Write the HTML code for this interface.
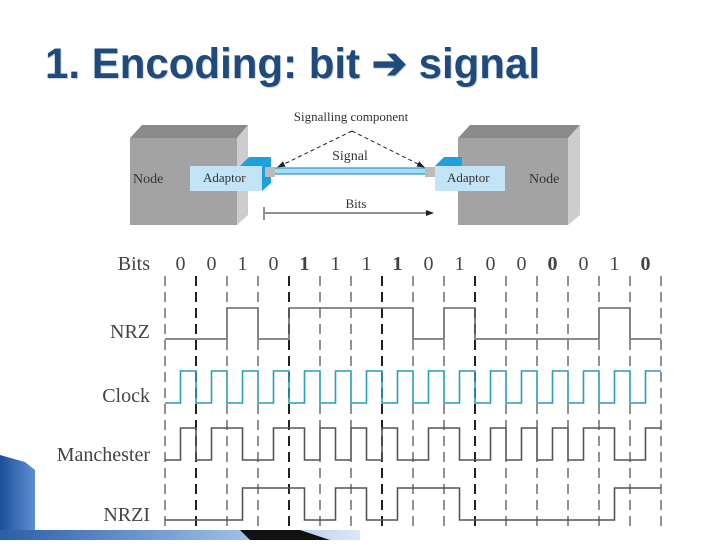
<!DOCTYPE html>
<html><head><meta charset="utf-8"><style>
html,body{margin:0;padding:0;background:#fff;}
body{width:720px;height:540px;overflow:hidden;position:relative;}
</style></head><body>
<svg width="720" height="540" viewBox="0 0 720 540" xmlns="http://www.w3.org/2000/svg">
<defs>
<linearGradient id="bl" x1="0" y1="0" x2="1" y2="0"><stop offset="0" stop-color="#1d4f9a"/><stop offset="1" stop-color="#5d8fd0"/></linearGradient>
<linearGradient id="bb" x1="0" y1="0" x2="1" y2="0"><stop offset="0" stop-color="#2a5ea8"/><stop offset="0.6" stop-color="#8fb4e0"/><stop offset="1" stop-color="#dce8f6"/></linearGradient>
<marker id="ah" markerWidth="8" markerHeight="8" refX="7" refY="4" orient="auto"><path d="M0,1 L8,4 L0,7 z" fill="#222"/></marker>
</defs>
<path d="M0 455 L25 462 L35 470 L35 530 L0 540 Z" fill="url(#bl)"/>
<rect x="0" y="530" width="360" height="10" fill="url(#bb)"/>
<path d="M240 530 L300 530 L330 540 L250 540 Z" fill="#111"/>
<text x="46" y="79" font-family="Liberation Sans, sans-serif" font-weight="bold" font-size="43" fill="#cfd6e0" textLength="495" lengthAdjust="spacingAndGlyphs">1. Encoding: bit ➔ signal</text>
<text x="45" y="78" font-family="Liberation Sans, sans-serif" font-weight="bold" font-size="43" fill="#1f4a7c" textLength="495" lengthAdjust="spacingAndGlyphs">1. Encoding: bit ➔ signal</text>
<g font-family="Liberation Serif, serif" fill="#333">
<polygon points="130,138 142,125 248,125 237,138" fill="#8a8a8a"/>
<polygon points="237,138 248,125 248,215 237,225" fill="#cdcdcd"/>
<rect x="130" y="138" width="107" height="87" fill="#a3a3a3"/>
<text x="133" y="183" font-size="14">Node</text>
<polygon points="262,166 271,157 271,183 262,191" fill="#1fa0dc"/>
<polygon points="240,166 249,157 271,157 262,166" fill="#1fa0dc"/>
<rect x="190" y="166" width="72" height="25" fill="#c2e4f6"/>
<text x="203" y="182" font-size="13">Adaptor</text>
<rect x="265" y="167" width="10" height="10" fill="#bbb"/>
<rect x="275" y="168" width="152" height="6" fill="#a9dcf2"/>
<line x1="275" y1="168" x2="427" y2="168" stroke="#2a9bd0" stroke-width="1.2"/>
<line x1="275" y1="174" x2="427" y2="174" stroke="#2a9bd0" stroke-width="1.2"/>
<rect x="425" y="167" width="10" height="10" fill="#bbb"/>
<polygon points="458,138 470,125 580,125 568,138" fill="#8a8a8a"/>
<polygon points="568,138 580,125 580,215 568,225" fill="#cdcdcd"/>
<rect x="458" y="138" width="110" height="87" fill="#a3a3a3"/>
<text x="529" y="183" font-size="14">Node</text>
<polygon points="435,166 444,157 462,157 462,166" fill="#1fa0dc"/>
<rect x="435" y="166" width="70" height="25" fill="#c2e4f6"/>
<text x="447" y="182" font-size="13">Adaptor</text>
<text x="351" y="121" font-size="13" text-anchor="middle">Signalling component</text>
<text x="350" y="160" font-size="14" text-anchor="middle">Signal</text>
<line x1="352" y1="131" x2="278" y2="167" stroke="#222" stroke-dasharray="4,3" marker-end="url(#ah)"/>
<line x1="352" y1="131" x2="424" y2="167" stroke="#222" stroke-dasharray="4,3" marker-end="url(#ah)"/>
<text x="356" y="208" font-size="13" text-anchor="middle">Bits</text>
<line x1="264" y1="207" x2="264" y2="220" stroke="#222"/>
<line x1="265" y1="213" x2="433" y2="213" stroke="#222" marker-end="url(#ah)"/>
</g>
<g font-family="Liberation Serif, serif" font-size="20" fill="#444" text-anchor="end">
<text x="150" y="270">Bits</text>
<text x="150" y="338">NRZ</text>
<text x="150" y="402">Clock</text>
<text x="150" y="461">Manchester</text>
<text x="150" y="521">NRZI</text>
</g>
<g font-family="Liberation Serif, serif" font-size="20" fill="#444" text-anchor="middle">
<text x="180.5" y="270">0</text><text x="211.5" y="270">0</text><text x="242.5" y="270">1</text><text x="273.5" y="270">0</text>
<text x="304.5" y="270" font-weight="bold">1</text><text x="335.5" y="270">1</text><text x="366.5" y="270">1</text><text x="397.5" y="270" font-weight="bold">1</text>
<text x="428.5" y="270">0</text><text x="459.5" y="270">1</text><text x="490.5" y="270">0</text><text x="521.5" y="270">0</text>
<text x="552.5" y="270" font-weight="bold">0</text><text x="583.5" y="270">0</text><text x="614.5" y="270">1</text><text x="645.5" y="270" font-weight="bold">0</text>
</g>
<g stroke="#222" stroke-width="1" stroke-dasharray="10,6">
<line x1="165" y1="276" x2="165" y2="528"/>
<line x1="196" y1="276" x2="196" y2="528" stroke-width="2"/>
<line x1="227" y1="276" x2="227" y2="528"/>
<line x1="258" y1="276" x2="258" y2="528"/>
<line x1="289" y1="276" x2="289" y2="528" stroke-width="2"/>
<line x1="320" y1="276" x2="320" y2="528"/>
<line x1="351" y1="276" x2="351" y2="528"/>
<line x1="382" y1="276" x2="382" y2="528" stroke-width="2"/>
<line x1="413" y1="276" x2="413" y2="528"/>
<line x1="444" y1="276" x2="444" y2="528"/>
<line x1="475" y1="276" x2="475" y2="528" stroke-width="2"/>
<line x1="506" y1="276" x2="506" y2="528"/>
<line x1="537" y1="276" x2="537" y2="528"/>
<line x1="568" y1="276" x2="568" y2="528"/>
<line x1="599" y1="276" x2="599" y2="528"/>
<line x1="630" y1="276" x2="630" y2="528"/>
<line x1="661" y1="276" x2="661" y2="528"/>
</g>
<g fill="none" stroke-width="1.6">
<path stroke="#666" d="M165 339 H227 V308 H258 V339 H289 V308 H413 V339 H444 V308 H475 V339 H599 V308 H630 V339 H661"/>
<path stroke="#2a9bb5" d="M165 403 H180.5 V371 H196 V403 H211.5 V371 H227 V403 H242.5 V371 H258 V403 H273.5 V371 H289 V403 H304.5 V371 H320 V403 H335.5 V371 H351 V403 H366.5 V371 H382 V403 H397.5 V371 H413 V403 H428.5 V371 H444 V403 H459.5 V371 H475 V403 H490.5 V371 H506 V403 H521.5 V371 H537 V403 H552.5 V371 H568 V403 H583.5 V371 H599 V403 H614.5 V371 H630 V403 H645.5 V371 H661"/>
<path stroke="#555" d="M165 460 H180.5 V428 H196 V460 H211.5 V428 H242.5 V460 H273.5 V428 H304.5 V460 H320 V428 H335.5 V460 H351 V428 H366.5 V460 H382 V428 H397.5 V460 H428.5 V428 H459.5 V460 H490.5 V428 H506 V460 H521.5 V428 H537 V460 H552.5 V428 H568 V460 H583.5 V428 H614.5 V460 H645.5 V428 H661"/>
<path stroke="#555" d="M165 520 H242.5 V488 H304.5 V520 H335.5 V488 H366.5 V520 H397.5 V488 H459.5 V520 H614.5 V488 H661"/>
</g>
</svg>
</body></html>
